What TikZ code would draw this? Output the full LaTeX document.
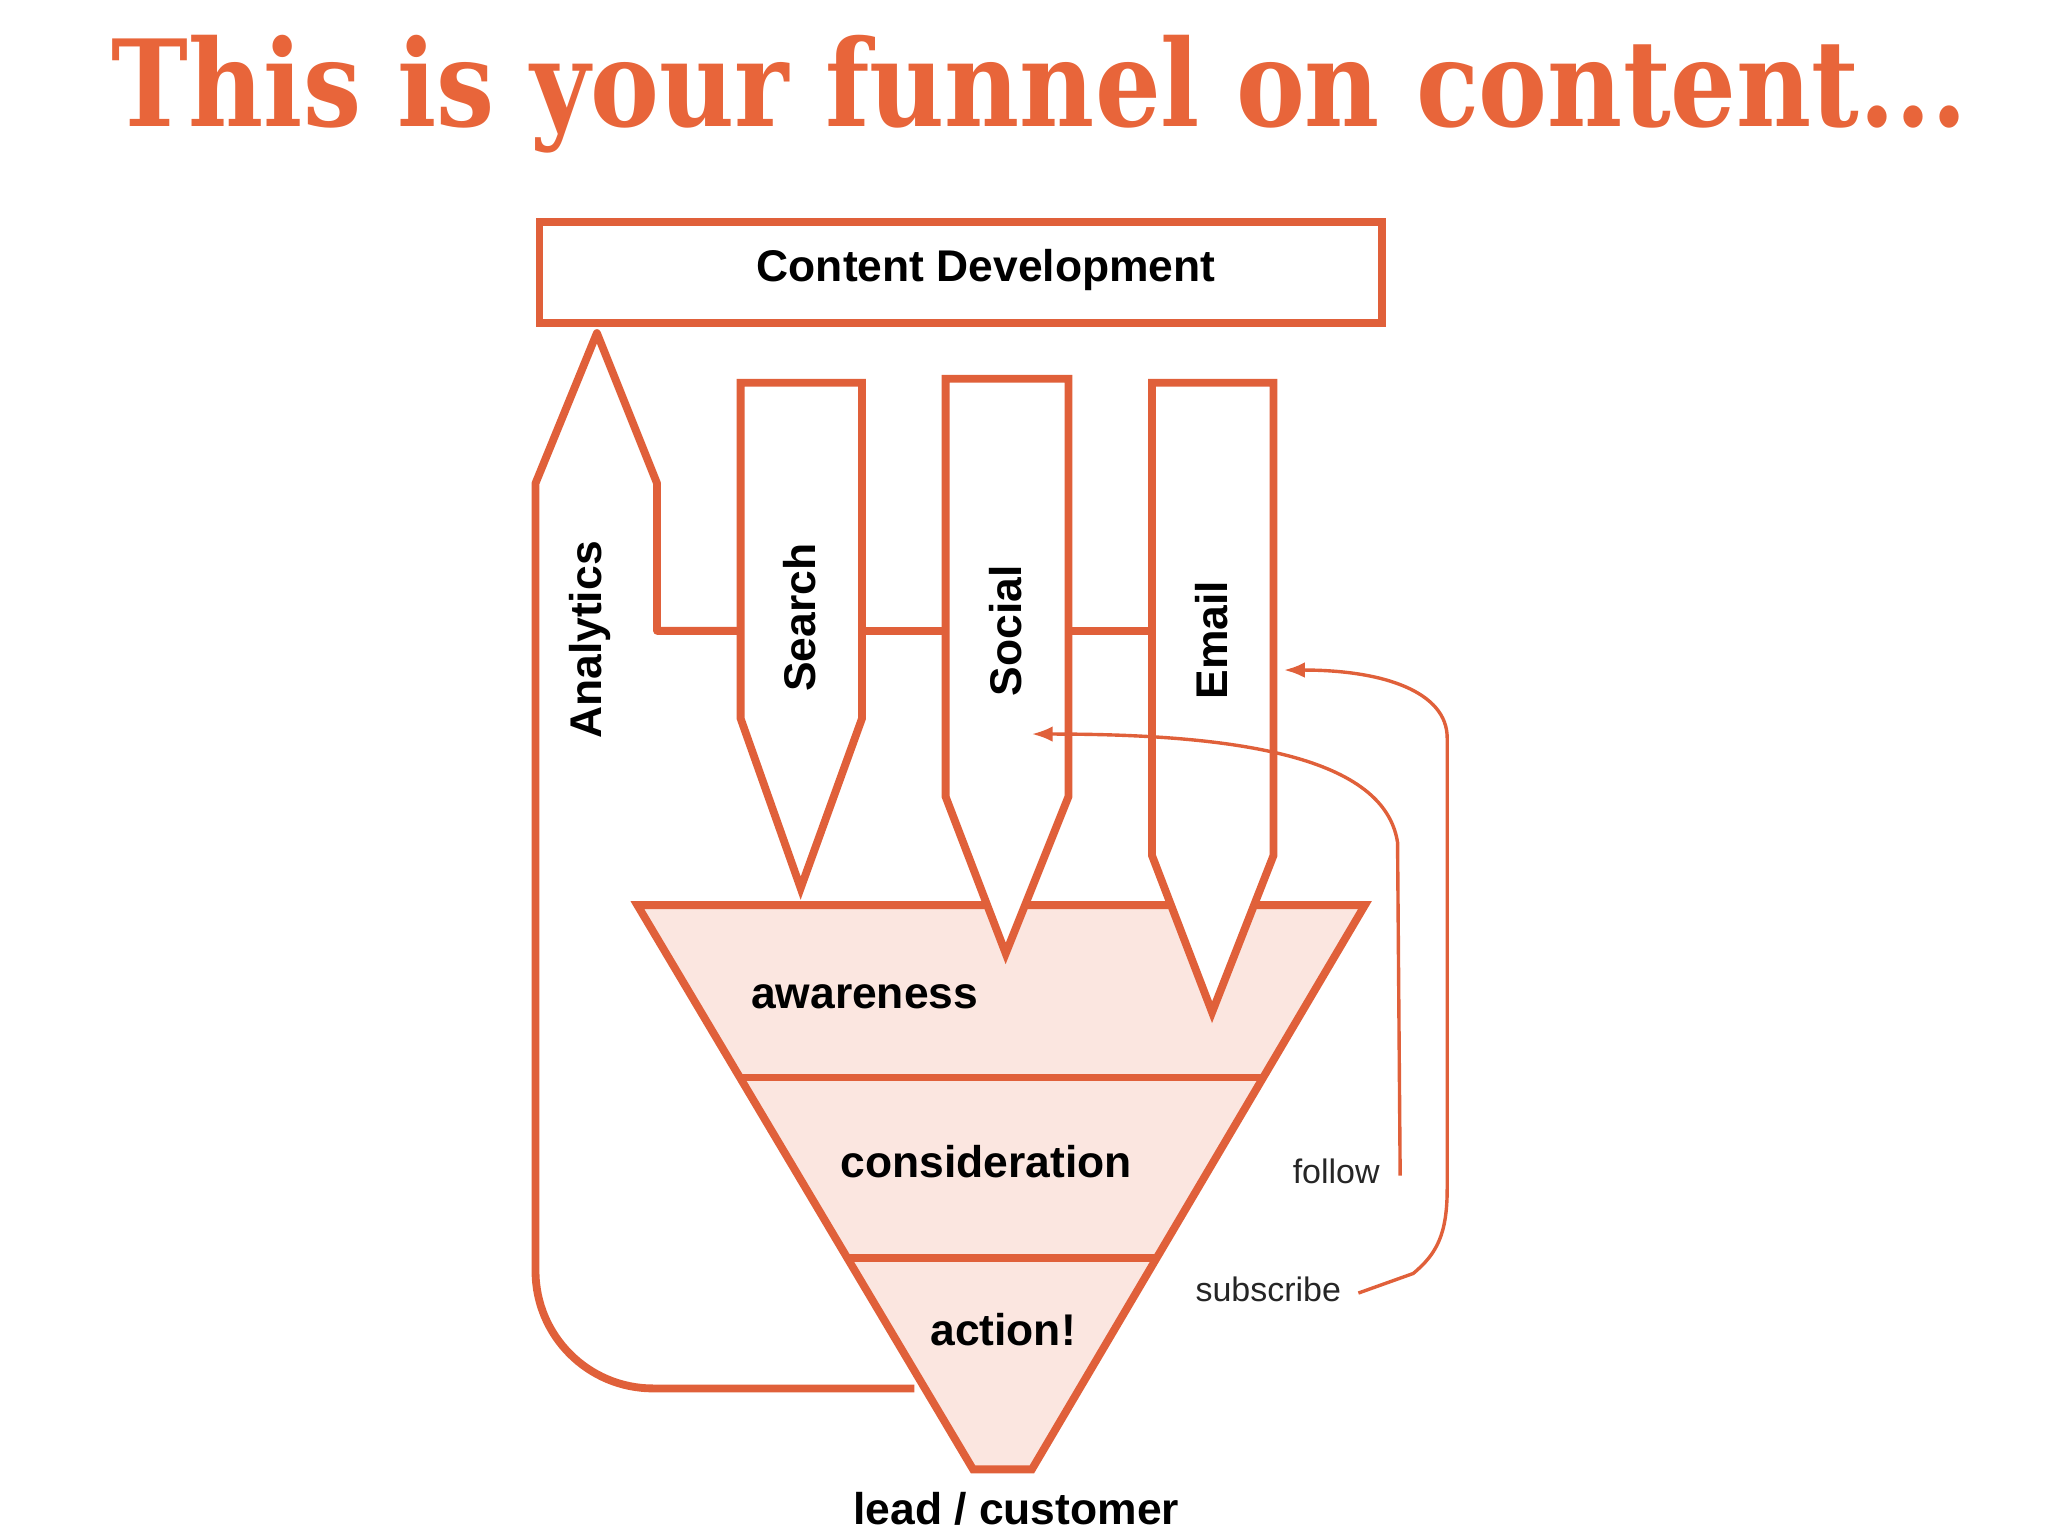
\documentclass[tikz,border=0pt]{standalone}
\usepackage{fontspec}
\setmainfont{Liberation Sans}
\newfontfamily\titlefont{DejaVu Serif}
\usetikzlibrary{arrows.meta}
\definecolor{org}{HTML}{E0603A}
\definecolor{ttl}{HTML}{E8653A}
\definecolor{pinkf}{HTML}{FBE6E0}
\tikzset{
 ob/.style={draw=org,line width=3pt,line join=miter},
 lbl/.style={font=\bfseries\fontsize{17}{20}\selectfont,text=black},
 thin/.style={draw=org,line width=1.3pt,-{Latex[length=8pt,width=6pt]}},
 sm/.style={font=\fontsize{13}{15}\selectfont,text=black!85}
}
\begin{document}
\begin{tikzpicture}[x=0.5pt,y=-0.5pt]
\useasboundingbox (0,0) rectangle (1568,1176);
\node[font=\titlefont\bfseries\fontsize{46}{50}\selectfont,text=ttl,xscale=0.86,yscale=1] (title) at (796,72) {This is your funnel on content...};
% content box
\draw[ob] (413,170) rectangle (1058,247);
\node[lbl] (cd) at (755,207) {Content Development};
% funnel
\fill[pinkf] (488,693) -- (1045,693) -- (790,1125) -- (745,1125) -- cycle;
\draw[ob] (488,693) -- (1045,693) -- (790,1125) -- (745,1125) -- cycle;
\draw[ob] (567,825) -- (967,825);
\draw[ob] (648,963) -- (885,963);
% analytics
\draw[ob,line join=round] (700,1063) -- (500,1063) arc (90:180:90) -- (410,370) -- (457,255) -- (503,370) -- (503,483) -- (567,483);
\draw[ob] (660,483) -- (724,483);
\draw[ob] (818,483) -- (882,483);
% columns
\fill[white] (567,293) -- (660,293) -- (660,550) -- (613,680) -- (567,550) -- cycle;
\draw[ob] (567,293) -- (660,293) -- (660,550) -- (613,680) -- (567,550) -- cycle;
\fill[white] (724,290) -- (818,290) -- (818,610) -- (770,730) -- (724,610) -- cycle;
\draw[ob] (724,290) -- (818,290) -- (818,610) -- (770,730) -- (724,610) -- cycle;
\fill[white] (882,293) -- (975,293) -- (975,655) -- (928,775) -- (882,655) -- cycle;
\draw[ob] (882,293) -- (975,293) -- (975,655) -- (928,775) -- (882,655) -- cycle;
\node[lbl,rotate=90] (an) at (452,490) {Analytics};
\node[lbl,rotate=90] (se) at (612,473) {Search};
\node[lbl,rotate=90] (so) at (770,483) {Social};
\node[lbl,rotate=90] (em) at (928,490) {Email};
\node[lbl] (aw) at (662,763) {awareness};
\node[lbl] (co) at (755,889) {consideration};
\node[lbl] (ac) at (768,1018) {action!};
\node[lbl] (lc) at (778,1155) {lead / customer};
\node[sm] (fo) at (1023,897) {follow};
\node[sm] (su) at (971,987) {subscribe};
\coordinate (sot) at (790,562);
\coordinate (emt) at (983,513);
\draw[thin] (1072,900) -- (1070,645) .. controls (1060,580) and (950,562) .. (sot);
\draw[thin] (1040,990) -- (1082,975) .. controls (1100,960) and (1108,945) .. (1108,910) -- (1108,565) .. controls (1108,530) and (1060,513) .. (emt);
\end{tikzpicture}
\end{document}
